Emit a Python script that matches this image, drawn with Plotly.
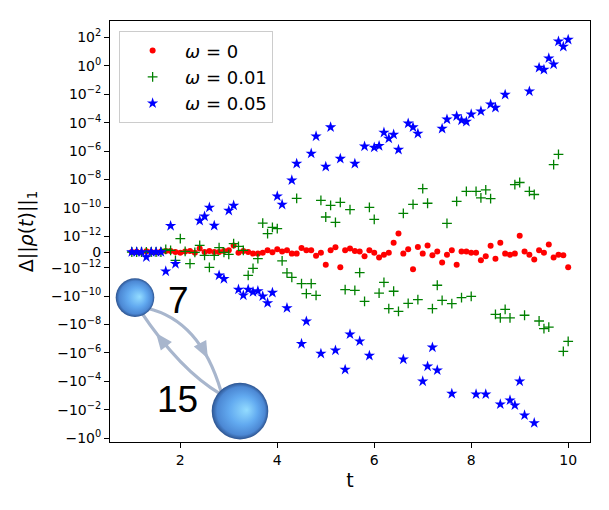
import base64
import numpy as np
import plotly.graph_objects as go

# time grid, one sample every 0.1
T = np.round(np.linspace(1.0, 10.0, 91), 1)

# omega = 0, values in units of 1e-12
RED_E12 = [0.0, 0.02, -0.03, 0.05, 0.0, -0.02, 0.04, 0.06, 0.06, 0.0,
           -0.04, 0.04, 0.06, -0.04, 0.22, 0.0, 0.06, 0.0, 0.0, 0.06,
           0.11, 0.42, -0.04, 0.06, 0.0, -0.10, -0.10, -0.04, 0.11, -0.02,
           0.17, 0.04, 0.11, -0.10, -0.10, 0.25, 0.11, 0.11, -0.23, -0.04,
           -0.80, 0.11, 0.30, -0.97, 0.11, 0.23, 0.06, 0.04, -0.27, 0.11,
           -0.04, -0.35, -0.17, -0.04, 0.59, 1.53, -0.10, 0.17, -1.28, 0.32,
           -0.10, 0.42, -0.21, 0.04, -0.67, -0.17, 0.11, -0.80, 0.04, 0.04,
           -0.04, -0.04, -0.52, -0.27, 0.40, -0.42, 0.59, -0.10, -0.17, -0.10,
           1.10, 0.04, -0.17, -0.48, 0.11, -0.04, 0.47, -0.35, -0.17, -0.21,
           -0.97]

# omega = 0.01
GREEN = [0.0, 0.0, 0.0, 0.0, 0.0, 0.0, 0.0, 0.17e-12, 0.11e-12, -0.53e-12,
         0.85e-12, 0.04e-12, -0.73e-12, -0.02e-12, 0.42e-12, -0.21e-12, -0.97e-12, -0.21e-12, 0.28e-12, -0.02e-12,
         -0.15e-12, 0.53e-12, 0.36e-12, 0.11e-12, -3.4e-12, -1.09e-12, -0.42e-12, 8.5e-12, 1.53e-12, 4.2e-12,
         3.4e-12, -0.56e-12, -2.26e-12, -4.7e-12, 4.7e-10, -1.3e-11, -6.6e-11, -1.3e-11, -8.7e-11, 3.4e-10,
         2.26e-11, 1.5e-10, 9.6e-12, 2.45e-10, -3.4e-11, 7.5e-11, -3.9e-11, -2.2e-12, -2.3e-10, 1.09e-10,
         1.56e-11, -6.0e-11, -1.05e-11, -7.5e-10, -4.5e-11, -1.16e-9, 4.1e-11, -3.2e-10, 1.77e-10, -1.74e-10,
         2.26e-9, 2.1e-10, -7.5e-10, -1.7e-11, -1.95e-10, 8.1e-12, -3.3e-10, 2.9e-10, -1.26e-10, 1.46e-9,
         -1.02e-10, 1.46e-9, 5.1e-10, 1.83e-9, 4.5e-10, -1.9e-9, -3.4e-9, -8.4e-10, -3.4e-9, 4.3e-9,
         6.1e-9, -2.2e-9, 1.46e-9, 8.7e-10, -5.6e-9, -1.9e-8, -1.5e-8, 1.12e-7, 5.9e-7, -7.6e-7,
         -1.5e-7]

# omega = 0.05 (None where hidden behind the inset)
BLUE = [0.0, 0.0, 0.0, -0.32e-12, 0.0, 0.0, 0.0, -1.77e-12, 5.4e-12, -0.75e-12,
        None, None, None, None, 1.26e-11, 2.5e-11, 1.05e-10, 5.6e-12, -3.4e-12, -6.0e-12,
        6.4e-11, 1.46e-10, -3.4e-11, -8.7e-11, -3.4e-11, -5.1e-11, -4.3e-11, -1.02e-10, -3.0e-10, -5.6e-11,
        6.5e-10, 1.7e-10, -6.8e-10, 8.7e-9, 1.3e-7, -2.26e-7, -5.9e-9, 6.7e-7, 1.09e-5, -1.1e-6,
        8.0e-8, 4.8e-5, -6.5e-7, 2.9e-7, -1.48e-5, -4.8e-8, 1.3e-7, -1.5e-7, 2.15e-6, -1.53e-6,
        1.77e-6, 2.3e-6, 2.0e-5, 7.6e-6, 1.46e-5, 1.26e-6, -2.8e-6, 8.9e-5, 4.8e-5, 1.7e-5,
        -9.9e-5, -8.7e-6, -4.0e-7, -1.66e-5, 3.8e-5, 1.7e-4, -7.3e-4, 2.9e-4, 1.46e-4, 1.18e-4,
        3.9e-4, -8.1e-4, 6.3e-4, -8.1e-4, 1.95e-3, 1.14e-3, -4.1e-3, 9.4e-3, -2.15e-3, -4.8e-3,
        -9.9e-5, -2.45e-2, 1.6e-2, -8.5e-2, 0.75, 0.54, 3.4, 1.28, 53.0, 22.6,
        70.0]

Y_TICK_EXP = [2, 0, -2, -4, -6, -8, -10, -12]
X_TICKS = [2, 4, 6, 8, 10]

LINTHRESH = 1e-12
LINSCALE_ADJ = 1.0 / (1.0 - 1.0 / 10.0)

assert len(RED_E12) == len(GREEN) == len(BLUE) == len(T)


def symlog(v):
    # same mapping as matplotlib's symlog scale (base 10, linscale 1)
    if v is None:
        return None
    a = abs(v)
    if a <= LINTHRESH:
        return v / LINTHRESH * LINSCALE_ADJ
    return float(np.sign(v)) * (LINSCALE_ADJ + np.log10(a / LINTHRESH))


def sup(k):
    return "10<sup>%s</sup>" % str(k).replace("-", "\u2212")


red = [symlog(v * 1e-12) for v in RED_E12]
green = [symlog(v) for v in GREEN]
blue = [symlog(v) for v in BLUE]

tickvals = [symlog(10.0 ** k) for k in Y_TICK_EXP] + [0.0] + [symlog(-10.0 ** k) for k in Y_TICK_EXP[::-1]]
ticktext = [sup(k) for k in Y_TICK_EXP] + ["0"] + ["\u2212" + sup(k) for k in Y_TICK_EXP[::-1]]

fig = go.Figure()
fig.add_trace(go.Scatter(x=T, y=red, mode="markers", name="<i>ω</i> = 0",
                         marker=dict(color="#ff0000", size=6, symbol="circle")))
fig.add_trace(go.Scatter(x=T, y=green, mode="markers", name="<i>ω</i> = 0.01",
                         marker=dict(color="#008000", size=7, symbol="cross-thin",
                                     line=dict(color="#008000", width=1.3))))
fig.add_trace(go.Scatter(x=T, y=blue, mode="markers", name="<i>ω</i> = 0.05",
                         marker=dict(color="#0000ff", size=8.5, symbol="star",
                                     line=dict(width=0))))


# inset drawing: two spheres with curved arrows (local pixel coords)
def quad(p0, p1, p2, s):
    x = (1 - s) ** 2 * p0[0] + 2 * s * (1 - s) * p1[0] + s ** 2 * p2[0]
    y = (1 - s) ** 2 * p0[1] + 2 * s * (1 - s) * p1[1] + s ** 2 * p2[1]
    dx = 2 * (1 - s) * (p1[0] - p0[0]) + 2 * s * (p2[0] - p1[0])
    dy = 2 * (1 - s) * (p1[1] - p0[1]) + 2 * s * (p2[1] - p1[1])
    n = (dx * dx + dy * dy) ** 0.5
    return x, y, dx / n, dy / n


def arrow(p0, p1, p2, s, col):
    x, y, ux, uy = quad(p0, p1, p2, s)
    bx, by = x - 17 * ux, y - 17 * uy
    px, py = -uy * 7, ux * 7
    head = "%.1f,%.1f %.1f,%.1f %.1f,%.1f" % (x, y, bx + px, by + py, bx - px, by - py)
    return ('<path d="M%g %g Q%g %g %g %g" stroke="%s" stroke-width="3.2" fill="none"/>'
            '<polygon points="%s" fill="%s"/>' % (p0[0], p0[1], p1[0], p1[1], p2[0], p2[1], col, head, col))


ac = "#a8b6cd"
svg = ('<svg xmlns="http://www.w3.org/2000/svg" width="170" height="172" viewBox="0 0 170 172">'
       '<defs><radialGradient id="g" cx="0.5" cy="0.5" r="0.5" fx="0.62" fy="0.48">'
       '<stop offset="0" stop-color="#93dcff"/><stop offset="0.5" stop-color="#62aaf0"/>'
       '<stop offset="0.85" stop-color="#4c88d4"/><stop offset="1" stop-color="#2d5490"/>'
       '</radialGradient></defs>'
       + arrow((37, 38), (90, 50), (111, 121), 0.74, ac)
       + arrow((111, 124), (70, 100), (30, 40), 0.8, ac)
       + '<circle cx="25" cy="27.3" r="19.3" fill="url(#g)"/>'
       '<circle cx="130" cy="140.8" r="28.3" fill="url(#g)"/></svg>')
src = "data:image/svg+xml;base64," + base64.b64encode(svg.encode()).decode()

fig.add_layout_image(dict(source=src, xref="paper", yref="paper", x=0.0, y=(441.7 - 270) / 421,
                          sizex=170 / 480, sizey=172 / 421, xanchor="left", yanchor="top",
                          sizing="stretch", layer="above"))

fig.add_annotation(text="7", xref="paper", yref="paper", x=(178 - 110) / 480, y=(441.7 - 300) / 421,
                   xanchor="center", yanchor="middle", showarrow=False,
                   font=dict(family="Liberation Sans", size=37, color="black"))
fig.add_annotation(text="15", xref="paper", yref="paper", x=(177 - 110) / 480, y=(441.7 - 399) / 421,
                   xanchor="center", yanchor="middle", showarrow=False,
                   font=dict(family="Liberation Sans", size=37, color="black"))

axis_common = dict(showline=True, linecolor="black", linewidth=1, mirror=True,
                   ticks="outside", ticklen=5, tickwidth=1, tickcolor="black",
                   showgrid=False, zeroline=False,
                   tickfont=dict(family="DejaVu Sans", size=14, color="black"))

fig.update_xaxes(range=[0.55, 10.45], tickvals=X_TICKS,
                 title=dict(text="t", font=dict(family="DejaVu Sans", size=19, color="black"), standoff=6),
                 **axis_common)
fig.update_yaxes(range=[-13.38, 16.27], tickvals=tickvals, ticktext=ticktext,
                 title=dict(text="Δ||<i>ρ</i>(<i>t</i>)||<sub>1</sub>",
                            font=dict(family="DejaVu Sans", size=19, color="black"), standoff=12),
                 **axis_common)

# page body has an 8px margin, so the figure is 8px smaller on each axis
fig.update_layout(
    width=601, height=502,
    margin=dict(l=102, r=19, t=13, b=68),
    plot_bgcolor="white", paper_bgcolor="white",
    font=dict(family="DejaVu Sans", color="black"),
    legend=dict(x=0.019, y=0.9755, xanchor="left", yanchor="top",
                bgcolor="white", bordercolor="#cccccc", borderwidth=1,
                font=dict(family="DejaVu Sans", size=18, color="black"),
                itemwidth=55),
)

fig.write_html("out.html")
